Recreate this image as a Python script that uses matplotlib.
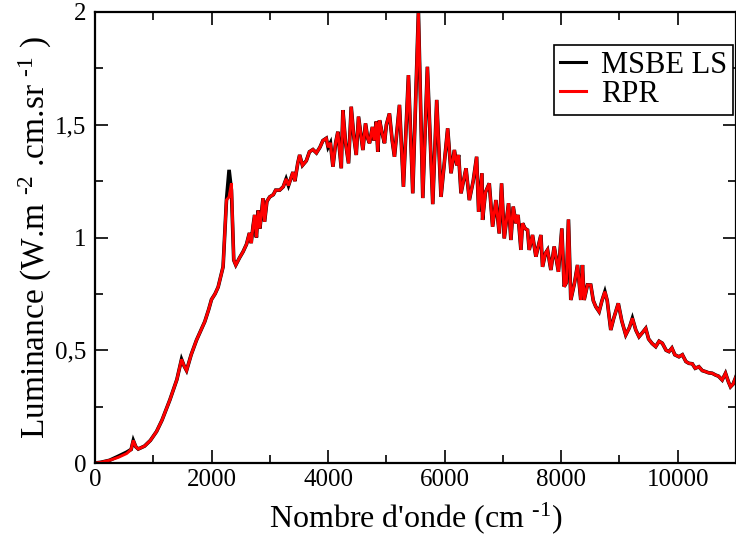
import matplotlib
matplotlib.use("Agg")
import matplotlib.pyplot as plt
from matplotlib.ticker import MultipleLocator, FuncFormatter

plt.rcParams['font.family'] = ['Liberation Serif', 'DejaVu Serif']
plt.rcParams['mathtext.fontset'] = 'custom'
plt.rcParams['mathtext.rm'] = 'Liberation Serif'
plt.rcParams['mathtext.it'] = 'Liberation Serif:italic'

wavenumber = [
    0, 100, 250, 400, 543, 620, 657, 700, 742, 850, 950, 1057, 1150, 1285, 1405,
    1485, 1530, 1571, 1650, 1742, 1884, 1950, 1999, 2060, 2113, 2198, 2256, 2301,
    2341, 2381, 2416, 2480, 2541, 2600, 2650, 2680, 2712, 2740, 2770, 2800, 2830,
    2883, 2910, 2950, 2998, 3060, 3100, 3169, 3230, 3280, 3320, 3397, 3430, 3480,
    3512, 3560, 3626, 3680, 3740, 3800, 3860, 3911, 3969, 4000, 4040, 4083, 4130,
    4168, 4226, 4254, 4300, 4351, 4397, 4440, 4483, 4522, 4597, 4642, 4680, 4711,
    4760, 4790, 4826, 4853, 4882, 4930, 4968, 5000, 5053, 5100, 5139, 5225, 5293,
    5379, 5453, 5550, 5625, 5704, 5796, 5864, 5938, 6052, 6110, 6167, 6210, 6240,
    6281, 6367, 6424, 6490, 6549, 6583, 6640, 6651, 6700, 6766, 6823, 6880, 6937,
    6977, 7023, 7097, 7137, 7177, 7223, 7260, 7309, 7337, 7380, 7423, 7451, 7508,
    7566, 7652, 7680, 7730, 7766, 7823, 7880, 7953, 8011, 8051, 8090, 8125, 8165,
    8230, 8280, 8336, 8365, 8394, 8451, 8508, 8551, 8594, 8651, 8700, 8750, 8790,
    8851, 8900, 8980, 9040, 9108, 9170, 9222, 9280, 9336, 9400, 9451, 9500, 9560,
    9622, 9680, 9736, 9800, 9850, 9900, 9950, 10021, 10080, 10140, 10192, 10250,
    10300, 10363, 10420, 10480, 10530, 10592, 10650, 10700, 10763, 10820, 10870,
    10906, 10950, 11000,
]

rpr = [
    0.0, 0.003, 0.012, 0.025, 0.042, 0.06, 0.10, 0.072, 0.062, 0.075, 0.10, 0.14,
    0.19, 0.28, 0.37, 0.46, 0.43, 0.41, 0.48, 0.545, 0.627, 0.68, 0.725, 0.75,
    0.78, 0.87, 1.166, 1.18, 1.24, 0.90, 0.878, 0.91, 0.937, 0.97, 1.02, 0.975,
    1.05, 1.10, 1.0, 1.12, 1.04, 1.174, 1.07, 1.16, 1.18, 1.19, 1.21, 1.21, 1.225,
    1.26, 1.23, 1.29, 1.25, 1.33, 1.366, 1.32, 1.34, 1.38, 1.39, 1.375, 1.40, 1.43,
    1.44, 1.40, 1.42, 1.314, 1.42, 1.469, 1.307, 1.565, 1.42, 1.329, 1.58, 1.45,
    1.366, 1.536, 1.388, 1.506, 1.44, 1.418, 1.49, 1.43, 1.514, 1.38, 1.52, 1.46,
    1.418, 1.50, 1.55, 1.43, 1.358, 1.588, 1.225, 1.72, 1.196, 2.0, 1.175, 1.757,
    1.148, 1.61, 1.18, 1.484, 1.285, 1.388, 1.32, 1.366, 1.196, 1.307, 1.166, 1.25,
    1.358, 1.114, 1.285, 1.078, 1.2, 1.24, 1.048, 1.166, 1.018, 1.24, 0.996, 1.152,
    0.989, 1.137, 1.063, 1.10, 0.945, 1.063, 1.04, 1.033, 0.945, 1.011, 0.915,
    1.011, 0.870, 0.93, 0.945, 0.856, 0.96, 0.848, 1.04, 0.782, 0.80, 1.08, 0.723,
    0.80, 0.878, 0.723, 0.878, 0.723, 0.79, 0.789, 0.72, 0.693, 0.671, 0.72, 0.760,
    0.72, 0.59, 0.64, 0.708, 0.63, 0.568, 0.60, 0.642, 0.59, 0.56, 0.58, 0.597,
    0.55, 0.53, 0.516, 0.54, 0.531, 0.50, 0.494, 0.51, 0.48, 0.471, 0.48, 0.45,
    0.442, 0.44, 0.42, 0.427, 0.41, 0.405, 0.40, 0.398, 0.39, 0.385, 0.368, 0.398,
    0.36, 0.338, 0.35, 0.383,
]

# MSBE LS follows RPR closely except at a few wavenumbers
msbe_overrides = {400: 0.030, 543: 0.048, 2301: 1.30, 2341: 1.21}
msbe = [msbe_overrides.get(w, v) for w, v in zip(wavenumber, rpr)]

series_labels = ["MSBE LS", "RPR"]

fig = plt.figure(figsize=(7.36, 5.40), dpi=100)
ax = fig.add_axes([95 / 736, 1 - 463 / 540, 641 / 736, 451 / 540])

ax.plot(wavenumber, msbe, color='black', lw=2.6, label=series_labels[0],
        solid_joinstyle='miter')
ax.plot(wavenumber, rpr, color='#ff0000', lw=2.1, label=series_labels[1],
        solid_joinstyle='miter')

ax.set_xlim(0, 11000)
ax.set_ylim(0, 2)
ax.xaxis.set_major_locator(MultipleLocator(2000))
ax.xaxis.set_minor_locator(MultipleLocator(1000))
ax.yaxis.set_major_locator(MultipleLocator(0.5))
ax.yaxis.set_minor_locator(MultipleLocator(0.25))
ax.yaxis.set_major_formatter(FuncFormatter(lambda v, p: ('%g' % v).replace('.', ',')))

ax.tick_params(which='both', direction='in', top=True, right=True, width=1.2,
               labelsize=18)
ax.tick_params(which='major', length=9.5, pad=4)
ax.tick_params(which='minor', length=5.5)
ax.tick_params(axis='y', which='major', pad=6)
for s in ax.spines.values():
    s.set_linewidth(1.6)

ax.set_xlabel(r"Nombre d'onde (cm $^{\text{-}1}$)", fontsize=23, labelpad=7)
ax.set_ylabel(r"Luminance (W.m $^{\text{-}2}$ .cm.sr $^{\text{-}1}$ )", fontsize=24,
              labelpad=1)

leg = ax.legend(loc='upper right', bbox_to_anchor=(0.996, 0.927), fontsize=22,
                frameon=True, fancybox=False, edgecolor='black', framealpha=1,
                handlelength=0.85, handletextpad=0.5, labelspacing=0.0,
                borderpad=0.2, borderaxespad=0.0)
leg.get_frame().set_linewidth(1.2)
for line in leg.get_lines():
    line.set_linewidth(2.2)

fig.savefig("out.png", dpi=100)
